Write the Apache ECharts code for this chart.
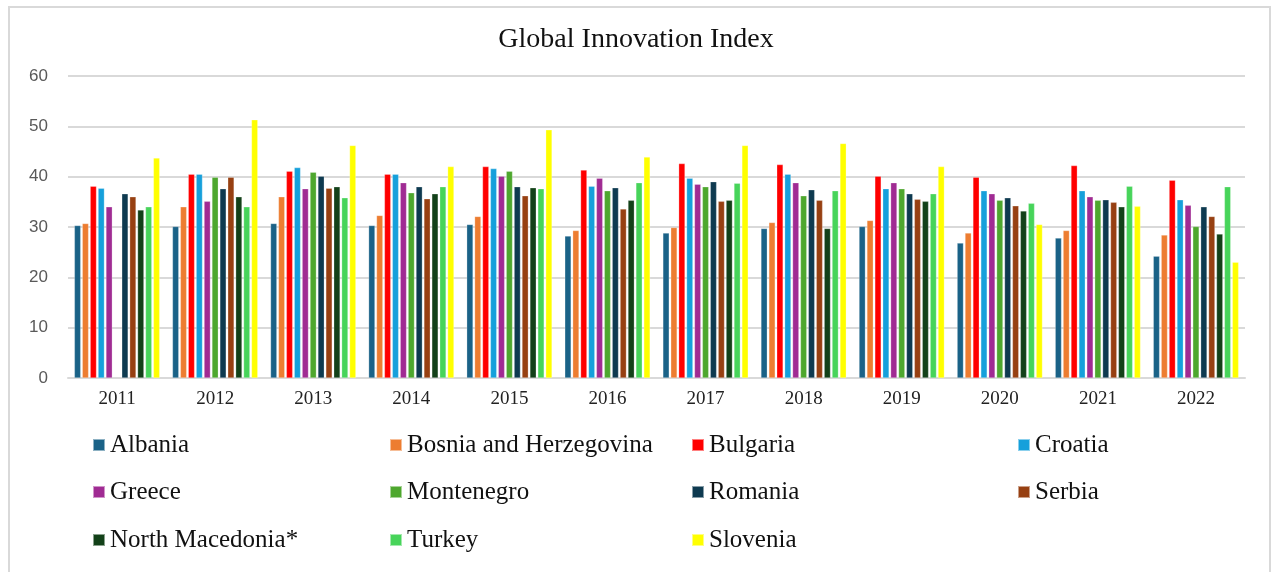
<!DOCTYPE html>
<html>
<head>
<meta charset="utf-8">
<script src="https://cdn.jsdelivr.net/npm/echarts@6/dist/echarts.min.js"></script>
<style>
html,body{margin:0;padding:0;background:#fff;}
#chart{width:1272px;height:572px;}
</style>
</head>
<body>
<div id="chart"></div>
<script>
const years = ['2011','2012','2013','2014','2015','2016','2017','2018','2019','2020','2021','2022'];
const countries = ['Albania','Bosnia and Herzegovina','Bulgaria','Croatia','Greece','Montenegro','Romania','Serbia','North Macedonia*','Turkey','Slovenia'];
const colors = ['#1A6287','#ED7D31','#FF0000','#16A0DB','#A02B93','#4EA72E','#0E3A50','#974012','#134119','#47D45A','#FFFF00'];

const albania    = [30.3, 30.1, 30.7, 30.3, 30.5, 28.2, 28.8, 29.7, 30.1, 26.8, 27.8, 24.2];
const bosnia     = [30.7, 34.0, 36.0, 32.3, 32.1, 29.3, 29.9, 30.9, 31.3, 28.8, 29.3, 28.4];
const bulgaria   = [38.1, 40.5, 41.1, 40.5, 42.0, 41.3, 42.6, 42.4, 40.1, 39.9, 42.2, 39.3];
const croatia    = [37.7, 40.5, 41.8, 40.5, 41.6, 38.1, 39.7, 40.5, 37.6, 37.2, 37.2, 35.4];
const greece     = [34.0, 35.1, 37.6, 38.8, 40.1, 39.7, 38.5, 38.8, 38.8, 36.6, 36.0, 34.3];
const montenegro = [null, 39.9, 40.9, 36.8, 41.1, 37.2, 38.0, 36.2, 37.6, 35.3, 35.3, 30.1];
const romania    = [36.6, 37.6, 40.1, 38.0, 38.0, 37.8, 39.0, 37.4, 36.6, 35.8, 35.4, 34.0];
const serbia     = [36.0, 39.9, 37.7, 35.6, 36.2, 33.6, 35.1, 35.3, 35.5, 34.2, 34.9, 32.1];
const northMac   = [33.4, 36.0, 38.0, 36.6, 37.8, 35.3, 35.3, 29.7, 35.1, 33.2, 34.0, 28.6];
const turkey     = [34.0, 34.0, 35.8, 38.0, 37.6, 38.8, 38.7, 37.2, 36.6, 34.7, 38.1, 38.0];
const slovenia   = [43.7, 51.3, 46.2, 42.0, 49.3, 43.9, 46.2, 46.6, 42.0, 30.5, 34.1, 23.0];
const yTicks = [0, 10, 20, 30, 40, 50, 60];

const seriesData = [albania, bosnia, bulgaria, croatia, greece, montenegro, romania, serbia, northMac, turkey, slovenia];

const chart = echarts.init(document.getElementById('chart'), null, {renderer: 'canvas'});

// legend layout: 4 columns x 3 rows, row-major order
const colLeft = [92, 389, 691, 1017];
const rowTop = [432, 479, 527];
const legends = countries.map((name, i) => {
  const r = Math.floor(i / 4), c = i % 4;
  return {
    data: [name],
    left: colLeft[c],
    top: rowTop[r],
    icon: 'rect',
    itemWidth: 12,
    itemHeight: 12,
    padding: 0,
    selectedMode: false,
    textStyle: {fontFamily: 'Liberation Serif', fontSize: 25, color: '#111', lineHeight: 26}
  };
});

const option = {
  animation: false,
  backgroundColor: '#fff',
  title: {
    text: 'Global Innovation Index',
    left: 'center',
    top: 21,
    textStyle: {fontFamily: 'Liberation Serif', fontSize: 28, fontWeight: 'normal', color: '#111'}
  },
  graphic: [{
    type: 'rect',
    shape: {x: 9, y: 7, width: 1261, height: 580},
    style: {fill: 'none', stroke: '#d9d9d9', lineWidth: 2},
    z: -1
  }],
  legend: legends,
  grid: {left: 68, right: 27, top: 76, bottom: 194, containLabel: false},
  xAxis: {
    type: 'category',
    data: years,
    axisLine: {lineStyle: {color: '#d9d9d9', width: 2}},
    axisTick: {show: false},
    axisLabel: {fontFamily: 'Liberation Serif', fontSize: 19, color: '#222', margin: 12}
  },
  yAxis: {
    type: 'value',
    min: yTicks[0],
    max: yTicks[yTicks.length - 1],
    interval: 10,
    axisLine: {show: false},
    axisTick: {show: false},
    splitLine: {lineStyle: {color: '#d9d9d9', width: 2}},
    axisLabel: {fontFamily: 'Liberation Sans', fontSize: 17, color: '#595959', margin: 20}
  },
  series: countries.map((name, i) => ({
    name: name,
    type: 'bar',
    data: seriesData[i],
    barGap: '25%',
    barCategoryGap: '13%',
    itemStyle: {color: colors[i], borderColor: 'rgba(255,255,255,0.5)', borderWidth: 0.5}
  }))
};
chart.setOption(option);
</script>
</body>
</html>
